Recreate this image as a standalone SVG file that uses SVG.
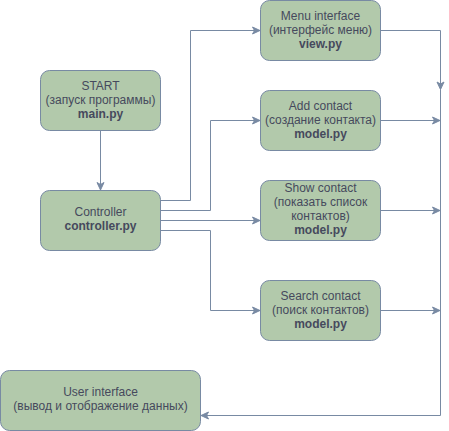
<svg xmlns="http://www.w3.org/2000/svg" width="449" height="431" viewBox="0 0 449 431">
<style>
.box{fill:#B2C9AB;stroke:#788AA3;stroke-width:1}
.edge{fill:none;stroke:#788AA3;stroke-width:1}
text{font-family:"Liberation Sans",Arial,sans-serif;font-size:12px;fill:#46495D;text-anchor:middle}
.b{font-weight:bold}
</style>
<defs>
<marker id="arr" markerUnits="userSpaceOnUse" markerWidth="10" markerHeight="9" viewBox="-1 -1 10 9" refX="7.5" refY="3.5" orient="auto">
<path d="M0,0 L7.5,3.5 L0,7 L2,3.5 Z" fill="#788AA3" stroke="#788AA3" stroke-width="1"/>
</marker>
</defs>
<g id="connectors">
<path class="edge" d="M100.5,130.5 V190" marker-end="url(#arr)"/>
<path class="edge" d="M160.5,200.5 H190.5 V30.5 H260" marker-end="url(#arr)"/>
<path class="edge" d="M160.5,210.5 H210.5 V120.5 H260" marker-end="url(#arr)"/>
<path class="edge" d="M160.5,220.5 H260" marker-end="url(#arr)"/>
<path class="edge" d="M160.5,230.5 H210.5 V310.5 H260" marker-end="url(#arr)"/>
<path class="edge" d="M380.5,30.5 H440.5 V89.5" marker-end="url(#arr)"/>
<path class="edge" d="M380.5,120.5 H440" marker-end="url(#arr)"/>
<path class="edge" d="M380.5,210.5 H440" marker-end="url(#arr)"/>
<path class="edge" d="M380.5,310.5 H440" marker-end="url(#arr)"/>
<path class="edge" d="M440.5,89.5 V415.5 H201" marker-end="url(#arr)"/>
</g>
<g id="start">
<rect class="box" x="40.5" y="70.5" width="120" height="60" rx="9"/>
<text x="100.5" y="89.5">START</text>
<text x="100.5" y="103.5">(запуск программы)</text>
<text x="100.5" y="117.5" class="b">main.py</text>
</g>
<g id="controller">
<rect class="box" x="40.5" y="190.5" width="120" height="60" rx="9"/>
<text x="100.5" y="216">Controller</text>
<text x="100.5" y="230" class="b">controller.py</text>
</g>
<g id="menu">
<rect class="box" x="260.5" y="0.5" width="120" height="60" rx="9"/>
<text x="320.5" y="19.5">Menu interface</text>
<text x="320.5" y="33.5">(интерфейс меню)</text>
<text x="320.5" y="47.5" class="b">view.py</text>
</g>
<g id="add">
<rect class="box" x="260.5" y="90.5" width="120" height="60" rx="9"/>
<text x="320.5" y="109.5">Add contact</text>
<text x="320.5" y="123.5">(создание контакта)</text>
<text x="320.5" y="137.5" class="b">model.py</text>
</g>
<g id="show">
<rect class="box" x="260.5" y="180.5" width="120" height="60" rx="9"/>
<text x="320.5" y="191.5">Show contact</text>
<text x="320.5" y="205.5">(показать список</text>
<text x="320.5" y="219.5">контактов)</text>
<text x="320.5" y="233.5" class="b">model.py</text>
</g>
<g id="search">
<rect class="box" x="260.5" y="280.5" width="120" height="60" rx="9"/>
<text x="320.5" y="299.5">Search contact</text>
<text x="320.5" y="313.5">(поиск контактов)</text>
<text x="320.5" y="327.5" class="b">model.py</text>
</g>
<g id="user">
<rect class="box" x="0.5" y="370.5" width="200" height="60" rx="9"/>
<text x="100.5" y="395.5">User interface</text>
<text x="100.5" y="409.5">(вывод и отображение данных)</text>
</g>
</svg>
